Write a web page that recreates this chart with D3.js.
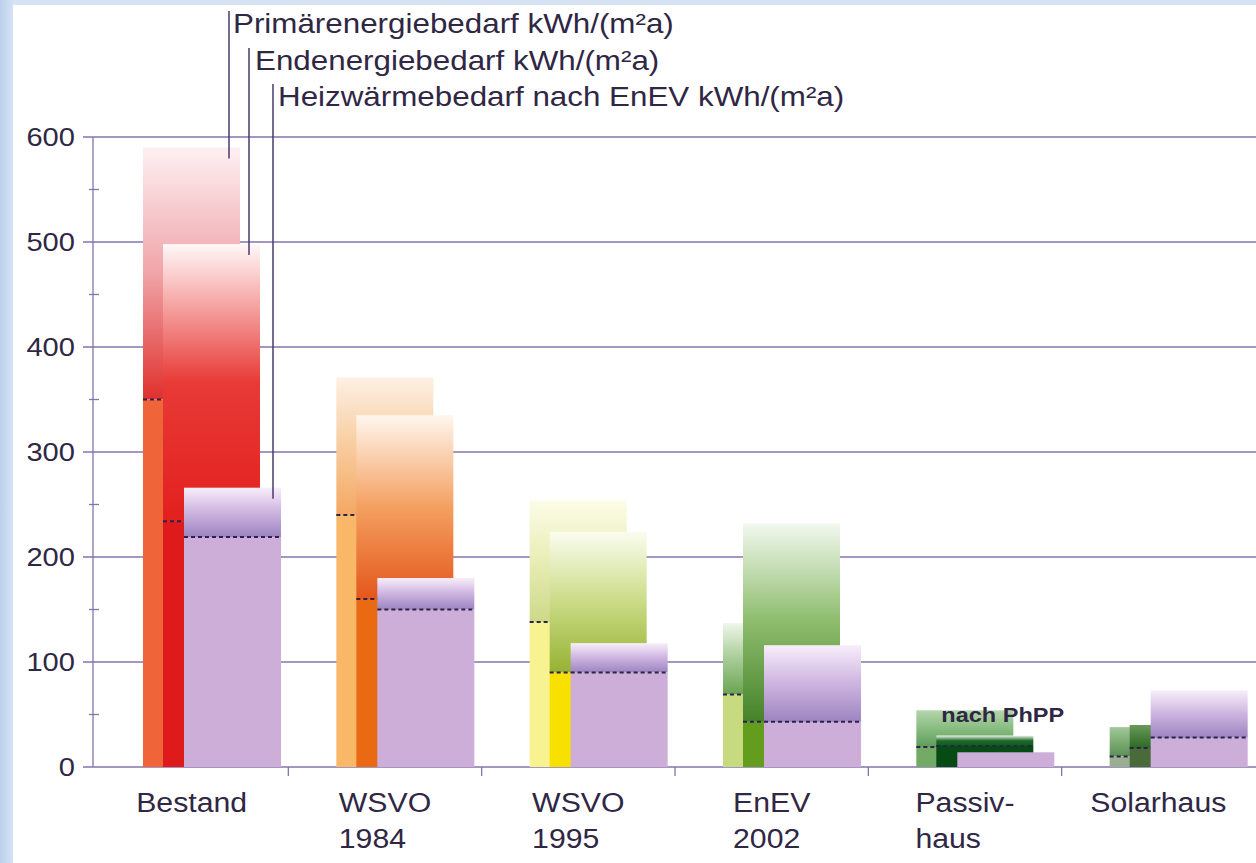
<!DOCTYPE html>
<html>
<head>
<meta charset="utf-8">
<script src="https://cdn.jsdelivr.net/npm/d3@7"></script>
<style>
  html, body { margin: 0; padding: 0; background: #fff; }
  svg { display: block; }
  text { font-family: "Liberation Sans", Arial, sans-serif; fill: #2f2744; }
</style>
</head>
<body>
<svg></svg>
<script>
// chart data
var categories = ["Bestand", "WSVO 1984", "WSVO 1995", "EnEV 2002", "Passivhaus", "Solarhaus"];
var categoryLines = [["Bestand"], ["WSVO", "1984"], ["WSVO", "1995"], ["EnEV", "2002"], ["Passiv-", "haus"], ["Solarhaus"]];
var seriesLabels = ["Primärenergiebedarf kWh/(m²a)", "Endenergiebedarf kWh/(m²a)", "Heizwärmebedarf nach EnEV kWh/(m²a)"];
var primaryMax = [590, 371, 254, 137, 54, 38];
var primaryMin = [350, 240, 138, 69, 19, 10];
var finalMax = [498, 335, 224, 232, 30, 40];
var finalMin = [234, 160, 90, 43, 20, 18];
var heatMax = [266, 180, 118, 116, 14, 73];
var heatMin = [219, 150, 90, 43, 14, 28];
var yTicks = [0, 100, 200, 300, 400, 500, 600];
var yMinorTicks = [50, 150, 250, 350, 450, 550];
var noteText = "nach PhPP";

// colours: [top, middle, at lower value, solid below]
var primaryColors = [
	["#fdf0f2", "#f0a4a8", "#e0302c", "#ef6438"],
	["#fdf0e4", "#f8cc9e", "#f4a862", "#f8b868"],
	["#fcfde8", "#e8edb4", "#cdd988", "#f8f290"],
	["#eef6ea", "#a8cc96", "#6aa452", "#c8da80"],
	["#b4d6ac", "#88bc80", "#5e9c58", "#72aa66"],
	["#a4c89c", "#7cac74", "#5a9054", "#9aae92"]
];
var finalColors = [
	["#fff8f8", "#e83a36", "#e2201e", "#de1a1a"],
	["#fff6ee", "#f4a060", "#e4561c", "#ea6a14"],
	["#fbfdee", "#cadb86", "#96b232", "#f8e000"],
	["#f2f8ee", "#8cbc6c", "#46822a", "#649c1e"],
	["#f0f8ee", "#1e6a28", "#0e5a18", "#064a14"],
	["#6a9a58", "#4a8040", "#2e6a22", "#4a6a3a"]
];
var heatColors = ["#f8eefa", "#cdb4e0", "#9c84c0", "#cdaed9"];

var width = 1256;
var height = 863;
var barWidth = 97;
var colOffsets = [0, 20, 41];
var stretch = 1.12;

var svg = d3.select("svg").attr("width", width).attr("height", height);
var defs = svg.append("defs");

// page background with blue border
var bg = defs.append("linearGradient").attr("id", "edge").attr("x1", 0).attr("x2", 1);
bg.append("stop").attr("offset", 0).attr("stop-color", "#bcd0ec");
bg.append("stop").attr("offset", 1).attr("stop-color", "#d4e2f4");
svg.append("rect").attr("width", width).attr("height", height).attr("fill", "#d6e3f4");
svg.append("rect").attr("width", 13).attr("height", height).attr("fill", "url(#edge)");
svg.append("rect").attr("x", 13).attr("y", 5).attr("width", width - 13).attr("height", height - 5).attr("fill", "#fff");

var yScale = d3.scaleLinear().domain([0, 600]).range([767, 137]);
var xScale = d3.scaleBand().domain(categories).range([95, 1255]);
var barStart = function(i){ return xScale(categories[i]) + 48; };

// grid
var grid = svg.append("g");
grid.selectAll("line.grid")
	.data(yTicks)
	.enter().append("line")
	.attr("x1", 83).attr("x2", width)
	.attr("y1", d => yScale(d)).attr("y2", d => yScale(d))
	.attr("stroke", "#8474ac").attr("stroke-width", 1.3);
grid.selectAll("line.minor")
	.data(yMinorTicks)
	.enter().append("line")
	.attr("x1", 89).attr("x2", 99)
	.attr("y1", d => yScale(d)).attr("y2", d => yScale(d))
	.attr("stroke", "#8474ac").attr("stroke-width", 1.3);
grid.append("line")
	.attr("x1", 93).attr("x2", 93)
	.attr("y1", yScale(600)).attr("y2", yScale(0))
	.attr("stroke", "#8474ac").attr("stroke-width", 1.3);
grid.selectAll("line.xtick")
	.data(categories.slice(1))
	.enter().append("line")
	.attr("x1", d => xScale(d)).attr("x2", d => xScale(d))
	.attr("y1", yScale(0)).attr("y2", yScale(0) + 9)
	.attr("stroke", "#8474ac").attr("stroke-width", 1.3);

// y tick labels
svg.selectAll("text.ytick")
	.data(yTicks)
	.enter().append("text")
	.attr("transform", d => "translate(75," + (yScale(d) + 9) + ") scale(" + stretch + ",1)")
	.attr("text-anchor", "end")
	.attr("font-size", 26)
	.text(d => d);

// one column = gradient part between max and min + solid part below min
var gradId = 0;
var drawColumn = function(g, x, vMax, vMin, colors){
	if (vMax > vMin) {
		var id = "g" + (gradId++);
		var lg = defs.append("linearGradient").attr("id", id)
			.attr("x1", 0).attr("y1", 0).attr("x2", 0).attr("y2", 1);
		lg.append("stop").attr("offset", 0).attr("stop-color", colors[0]);
		lg.append("stop").attr("offset", 0.5).attr("stop-color", colors[1]);
		lg.append("stop").attr("offset", 1).attr("stop-color", colors[2]);
		g.append("rect")
			.attr("x", x).attr("y", yScale(vMax))
			.attr("width", barWidth).attr("height", yScale(vMin) - yScale(vMax))
			.attr("fill", "url(#" + id + ")");
	}
	g.append("rect")
		.attr("x", x).attr("y", yScale(vMin))
		.attr("width", barWidth).attr("height", yScale(0) - yScale(vMin))
		.attr("fill", colors[3]);
	if (vMax > vMin) {
		g.append("line")
			.attr("x1", x).attr("x2", x + barWidth)
			.attr("y1", yScale(vMin)).attr("y2", yScale(vMin))
			.attr("stroke", "#2c2250").attr("stroke-width", 2)
			.attr("stroke-dasharray", "4,3");
	}
};

var bars = svg.append("g");
categories.forEach(function(c, i){
	var g = bars.append("g");
	var x0 = barStart(i);
	drawColumn(g, x0 + colOffsets[0], primaryMax[i], primaryMin[i], primaryColors[i]);
	drawColumn(g, x0 + colOffsets[1], finalMax[i], finalMin[i], finalColors[i]);
	drawColumn(g, x0 + colOffsets[2], heatMax[i], heatMin[i], heatColors);
});

// legend text with leader lines into the first group
var legendX = [233, 255, 278];
var legendY = [33, 70, 106];
var leaderTargets = [primaryMax[0], finalMax[0], heatMax[0]];
seriesLabels.forEach(function(s, k){
	var lx = barStart(0) + colOffsets[k] + 86 + (k == 2 ? 3 : 0);
	svg.append("line")
		.attr("x1", lx).attr("x2", lx)
		.attr("y1", legendY[k] - 22).attr("y2", yScale(leaderTargets[k]) + 11)
		.attr("stroke", "#4a3a6a").attr("stroke-width", 1.5);
	svg.append("text")
		.attr("transform", "translate(" + legendX[k] + "," + legendY[k] + ") scale(" + stretch + ",1)")
		.attr("font-size", 28)
		.text(s);
});

// note
svg.append("text")
	.attr("transform", "translate(" + (barStart(4) + 25) + "," + (yScale(primaryMax[4]) + 12) + ") scale(" + stretch + ",1)")
	.attr("font-size", 21)
	.attr("font-weight", "bold")
	.attr("fill", "#3d2c58")
	.text(noteText);

// category labels: block centred on band, lines left aligned
categoryLines.forEach(function(lines, i){
	var cx = xScale(categories[i]) + xScale.bandwidth() / 2;
	var g = svg.append("g");
	var texts = lines.map(function(t, j){
		return g.append("text")
			.attr("font-size", 27)
			.text(t);
	});
	var w = d3.max(texts, t => t.node().getComputedTextLength()) * stretch;
	texts.forEach(function(t, j){
		t.attr("transform", "translate(" + (cx - w / 2) + "," + (812 + j * 36) + ") scale(" + stretch + ",1)");
	});
});
</script>
</body>
</html>
